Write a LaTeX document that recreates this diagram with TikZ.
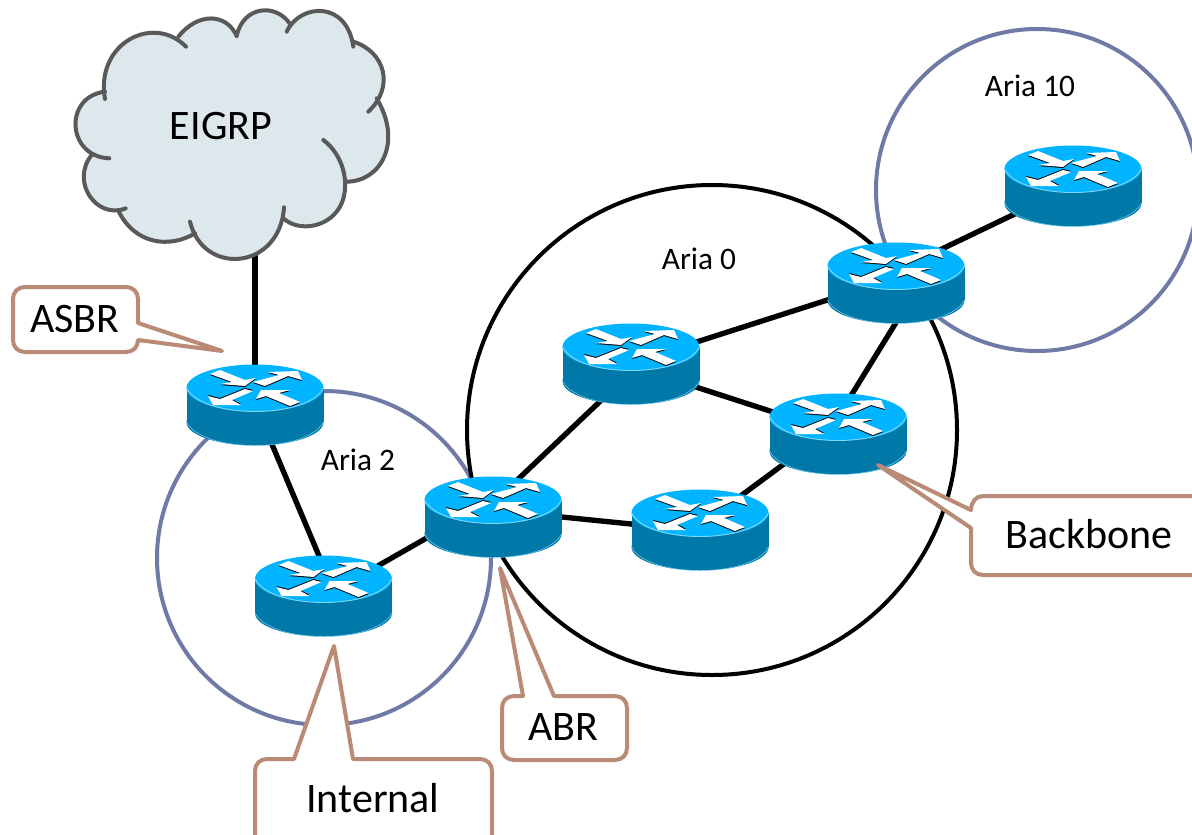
\documentclass[tikz,border=0pt]{standalone}
\usepackage{fontspec}
\setmainfont{Carlito}
\usepackage{xcolor}
\usetikzlibrary{positioning}
\definecolor{cloudfill}{HTML}{DDE8EC}
\definecolor{cloudedge}{HTML}{595959}
\definecolor{areaedge}{HTML}{6F7BA6}
\definecolor{calloutedge}{HTML}{B98A76}
\definecolor{routertop}{HTML}{00B4FF}
\definecolor{routerside}{HTML}{0078A8}
\definecolor{routerrim}{HTML}{7FD6F7}
\newcommand{\routerarrow}[2]{%
	\fill[black, shift={(0,#1)}] plot coordinates {#2} -- cycle;
	\fill[white] plot coordinates {#2} -- cycle;
}
\newcommand{\cloudbumps}{
	135/297/105/130/280/40/378/140,
	355/110/415/35/500/40/530/108,
	530/108/550/15/650/10/690/72,
	680/95/720/10/860/0/880/140,
	880/125/975/155/1005/260/925/335,
	950/295/1030/430/960/545/860/545,
	790/420/850/465/870/550/845/610,
	845/610/815/680/720/700/670/655,
	672/622/660/810/430/830/390/665,
	405/700/330/745/225/735/175/632,
	197/625/110/660/30/545/95/465,
	148/475/20/470/10/290/135/275}
\tikzset{
	routernode/.style = {shape=circle, inner sep=0pt, minimum size=1pt},
	area/.style       = {draw=areaedge, line width=3pt},
	backbone/.style   = {draw=black, line width=3pt},
	link/.style       = {draw=black, line width=4pt},
	bump/.style       = {draw=cloudedge, line width=3pt, line cap=round},
	callout/.style    = {draw=calloutedge, fill=white, line width=3pt, line join=round},
	bigtext/.style    = {inner sep=0pt, font=\fontsize{31.5}{36}\selectfont},
	smalltext/.style  = {inner sep=0pt, font=\fontsize{23.5}{28}\selectfont},
	router/.pic = {
		\begin{scope}[shift={(0,-16)}]
			\fill[routerside] (-68.5,0) rectangle (68.5,34);
			\fill[routerside] (0,34) ellipse [x radius=68.5, y radius=23.5];
			\draw[routerrim, line width=.35pt] (-68.5,34) .. controls (-60,50) and (-30,57.5) .. (0,57.5) .. controls (30,57.5) and (60,50) .. (68.5,34);
			\fill[routertop] (0,0) ellipse [x radius=68.5, y radius=23.5];
			\draw[routerrim, line width=.7pt] (-68.5,0) .. controls (-60,16) and (-30,23.5) .. (0,23.5) .. controls (30,23.5) and (60,16) .. (68.5,0);
			\routerarrow{1}{(-45,-14) (-35,-18) (-10,-8) (1,-10) (-10,-2) (-35,-4) (-23,-6)}
			\routerarrow{1}{(47,-8) (43,-17) (13,-16) (24,-13) (-2,-6) (10,-2) (33,-12)}
			\routerarrow{-1}{(-47,8) (-35,11) (-10,1) (-2,3) (-23,12) (-14,17) (-42,17)}
			\routerarrow{1}{(1,11) (6,2) (35,2) (24,5) (45,14) (35,18) (11,8)}
		\end{scope}
	}
}
\begin{document}
\begin{tikzpicture}[x=.75pt, y=-.75pt]
	\useasboundingbox (0,0) rectangle (1192,835);
	\clip (0,0) rectangle (1192,835);

	% areas
	\draw[area] (324,558) circle [radius=167];
	\draw[area] (1037,190) circle [radius=161];
	\draw[backbone] (712,430) circle [radius=245];

	% routers
	\coordinate (cloudfoot) at (255,240);
	\node [routernode] (asbr) at (255,404) {};
	\node [routernode] (internal) at (323.5,595) {};
	\node [routernode] (abr) at (493,516) {};
	\node [routernode] (upper) at (631,363) {};
	\node [routernode] (middle) at (838,433) {};
	\node [routernode] (lower) at (700,529) {};
	\node [routernode] (top) at (896,282) {};
	\node [routernode] (far) at (1073,185) {};

	\draw[link] (cloudfoot) -- (asbr);
	\draw[link] (asbr) -- ([shift={(12,0)}]internal.center);
	\draw[link] ([shift={(0,2)}]internal.center) -- ([shift={(0,-16)}]abr.center);
	\draw[link] ([shift={(0,-13)}]abr.center) -- ([shift={(0,9)}]upper.center);
	\draw[link] ([shift={(0,-6)}]abr.center) -- ([shift={(0,2)}]lower.center);
	\draw[link] ([shift={(0,3)}]upper.center) -- (middle);
	\draw[link] (upper) -- ([shift={(0,-4)}]top.center);
	\draw[link] ([shift={(0,-3)}]lower.center) -- ([shift={(0,-9)}]middle.center);
	\draw[link] ([shift={(-10,0)}]middle.center) -- ([shift={(25,0)}]top.center);
	\draw[link] ([shift={(0,-11)}]top.center) -- ([shift={(0,1)}]far.center);

	\foreach \r in {asbr,internal,abr,upper,middle,lower,top,far}
		\pic at (\r) {router};

	% cloud
	\begin{scope}[shift={(60,0)}, x=.25pt, y=-.25pt]
		\fill[cloudfill] (135,297) \foreach \ax/\ay/\bx/\by/\cx/\cy/\dx/\dy in \cloudbumps { -- (\ax,\ay) .. controls (\bx,\by) and (\cx,\cy) .. (\dx,\dy) } -- cycle;
		\foreach \ax/\ay/\bx/\by/\cx/\cy/\dx/\dy in \cloudbumps
			\draw[bump] (\ax,\ay) .. controls (\bx,\by) and (\cx,\cy) .. (\dx,\dy);
	\end{scope}

	% callouts
	\draw[callout] (25,287) -- (126,287) .. controls (133,287) and (138,292) .. (138,299) -- (138,323) -- (222,351) -- (138,340) .. controls (138,347) and (133,352) .. (126,352) -- (25,352) .. controls (18,352) and (13,347) .. (13,340) -- (13,299) .. controls (13,292) and (18,287) .. (25,287) -- cycle;
	\draw[callout] (255,870) -- (255,771) .. controls (255,764) and (260,759) .. (267,759) -- (294,759) -- (334,646) -- (353,759) -- (480,759) .. controls (487,759) and (492,764) .. (492,771) -- (492,870);
	\draw[callout] (514,696) -- (523,696) -- (500,568) -- (554,696) -- (615,696) .. controls (622,696) and (627,701) .. (627,708) -- (627,748) .. controls (627,755) and (622,760) .. (615,760) -- (514,760) .. controls (507,760) and (502,755) .. (502,748) -- (502,708) .. controls (502,701) and (507,696) .. (514,696) -- cycle;
	\draw[callout] (1230,496) -- (983,496) .. controls (976,496) and (971,502) .. (971,510) -- (878,465) -- (971,528) -- (971,563) .. controls (971,570) and (976,575) .. (983,575) -- (1230,575);

	% labels
	\node [bigtext] (eigrplabel) at (221,126) {EIGRP};
	\node [smalltext] (aria10) at (1030,86) {Aria 10};
	\node [smalltext] (aria0) at (699,259) {Aria 0};
	\node [smalltext] (aria2) at (358,460) {Aria 2};
	\node [bigtext] (asbrlabel) at (75,319) {ASBR};
	\node [bigtext] (internallabel) at (373,798) {Internal};
	\node [bigtext] (abrlabel) at (563,727) {ABR};
	\node [bigtext] (backbonelabel) at (1089,534) {Backbone};
\end{tikzpicture}
\end{document}
